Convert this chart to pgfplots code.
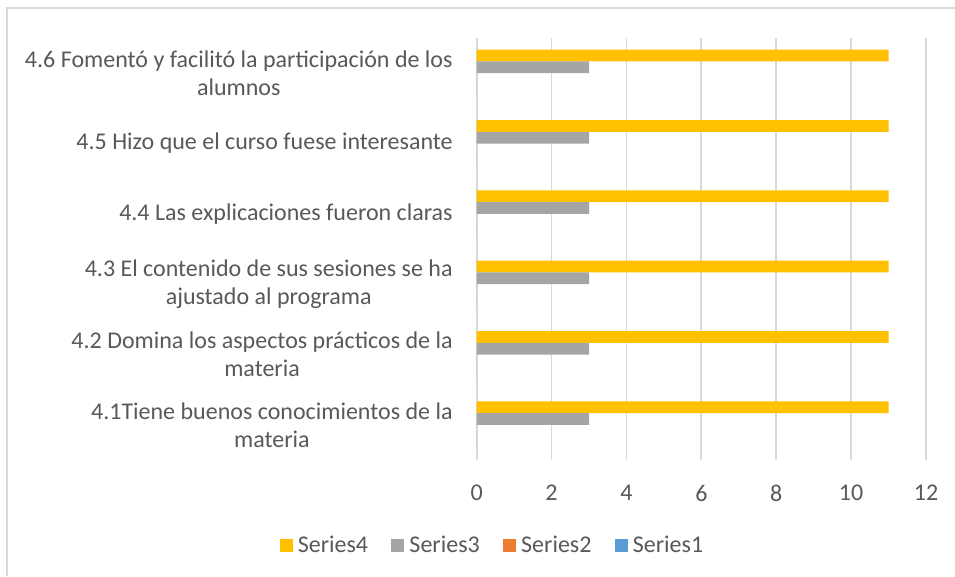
\documentclass[border=0pt]{standalone}
\usepackage{fontspec}
\setmainfont{Carlito}
\usepackage{pgfplots}
\pgfplotsset{compat=1.18}
\definecolor{sfour}{HTML}{FFC000}
\definecolor{sthree}{HTML}{A5A5A5}
\definecolor{stwo}{HTML}{ED7D31}
\definecolor{sone}{HTML}{5B9BD5}
\definecolor{txtgray}{HTML}{595959}
\definecolor{gridgray}{HTML}{D9D9D9}
\newcommand{\chartfont}{\fontsize{18}{21}\selectfont}

\begin{document}
\begin{tikzpicture}[x=0.75pt,y=0.75pt]
\useasboundingbox (0,0) rectangle (955,576);
\fill[white] (0,0) rectangle (955,576);
% chart border (cropped at right and bottom)
\draw[gridgray, line width=1.5pt] (7,0) -- (7,568) -- (955,568);

\begin{axis}[
  at={(357.5pt,87pt)}, anchor=south west,
  scale only axis, width=337pt, height=316.5pt,
  xbar, bar width=0.167,
  xmin=0, xmax=12, ymin=-0.5, ymax=5.5,
  xtick={0,2,...,12}, ytick={0,...,5},
  yticklabels={
    {4.1Tiene buenos conocimientos de la\\materia},
    {4.2 Domina los aspectos prácticos de la\\materia},
    {4.3 El contenido de sus sesiones se ha\\ajustado al programa},
    {4.4 Las explicaciones fueron claras},
    {4.5 Hizo que el curso fuese interesante},
    {4.6 Fomentó y facilitó la participación de los\\alumnos}},
  axis line style={draw=none},
  major tick length=0pt,
  xmajorgrids, ymajorgrids=false,
  grid style={draw=gridgray, line width=1.4pt},
  /pgf/number format/assume math mode=true,
  tick label style={font=\chartfont, text=txtgray},
  xticklabel style={anchor=north, inner sep=0pt, yshift=-18.75pt},
  yticklabel style={anchor=east, align=center, inner sep=0pt, xshift=-17.8pt},
  legend columns=4,
  legend style={at={(0.033,-0.2026)}, anchor=center, draw=none, fill=none,
    font=\chartfont, text=txtgray,
    nodes={inner sep=0pt},
    /tikz/every odd column/.append style={column sep=3.75pt},
    /tikz/every even column/.append style={column sep=17.5pt}},
  every axis plot post/.append style={
    legend image code/.code={\fill[##1] (0pt,-4.875pt) rectangle (9.75pt,4.875pt);}},
]
\addplot[fill=sfour, draw=none, bar shift=0.25]
  coordinates {(11,0) (11,1) (11,2) (11,3) (11,4) (11,5)};
\addlegendentry{Series4}
\addplot[fill=sthree, draw=none, bar shift=0.0833]
  coordinates {(3,0) (3,1) (3,2) (3,3) (3,4) (3,5)};
\addlegendentry{Series3}
\addplot[fill=stwo, draw=none, bar shift=-0.0833]
  coordinates {(0,0) (0,1) (0,2) (0,3) (0,4) (0,5)};
\addlegendentry{Series2}
\addplot[fill=sone, draw=none, bar shift=-0.25]
  coordinates {(0,0) (0,1) (0,2) (0,3) (0,4) (0,5)};
\addlegendentry{Series1}
\end{axis}
\end{tikzpicture}
\end{document}
